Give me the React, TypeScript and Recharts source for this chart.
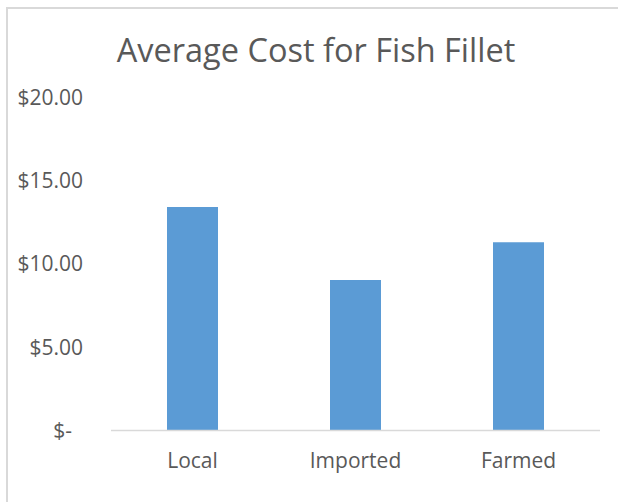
import React from "react";
import { BarChart, Bar, XAxis, YAxis } from "recharts";

const categories = ["Local", "Imported", "Farmed"];
const costs = [13.4, 9.03, 11.29];
const yTicks = [0, 5, 10, 15, 20];
const chartTitle = "Average Cost for Fish Fillet";

const data = categories.map((name, i) => ({ name, cost: costs[i] }));

const FONT = "'Open Sans', sans-serif";
const TEXT = "#595959";

const fmt = (v: number) => (v === 0 ? "$-" : "$" + v.toFixed(2));

const YTick = (props: any) => {
  const { x, y, payload } = props;
  const v = payload.value as number;
  const shift = v === 0 ? -11 : 0;
  return (
    <text
      x={x + shift}
      y={y}
      dy="0.36em"
      textAnchor="end"
      fill={TEXT}
      fontFamily={FONT}
      fontSize={21}
    >
      {fmt(v)}
    </text>
  );
};

const XTick = (props: any) => {
  const { x, y, payload } = props;
  return (
    <text
      x={x}
      y={y}
      dy="0.71em"
      textAnchor="middle"
      fill={TEXT}
      fontFamily={FONT}
      fontSize={21}
    >
      {payload.value}
    </text>
  );
};

export default function App() {
  return (
    <div style={{ position: "absolute", left: 0, top: 0, width: 618, height: 502, overflow: "hidden", background: "#fff" }}>
      <div
        style={{
          position: "absolute",
          left: 6,
          top: 7,
          width: 700,
          height: 600,
          borderLeft: "2px solid #d9d9d9",
          borderTop: "2px solid #d9d9d9",
        }}
      />
      <div
        style={{
          position: "absolute",
          left: 7,
          top: 27,
          width: 618,
          textAlign: "center",
          fontFamily: FONT,
          fontSize: 32.5,
          color: TEXT,
          whiteSpace: "nowrap",
        }}
      >
        {chartTitle}
      </div>
      <div style={{ position: "absolute", left: 0, top: 0 }}>
        <BarChart
          width={618}
          height={502}
          data={data}
          margin={{ top: 97, right: 18, bottom: 31.5, left: 11 }}
        >
          <XAxis
            dataKey="name"
            height={40}
            tickLine={false}
            tickSize={0}
            tickMargin={23}
            axisLine={{ stroke: "#d9d9d9", strokeWidth: 1.5 }}
            tick={<XTick />}
            interval={0}
          />
          <YAxis
            width={100}
            domain={[0, 20]}
            ticks={yTicks}
            axisLine={false}
            tickLine={false}
            tickSize={0}
            tickMargin={28}
            tick={<YTick />}
            interval={0}
          />
          <Bar dataKey="cost" fill="#5b9bd5" barSize={51} isAnimationActive={false} />
        </BarChart>
      </div>
    </div>
  );
}
